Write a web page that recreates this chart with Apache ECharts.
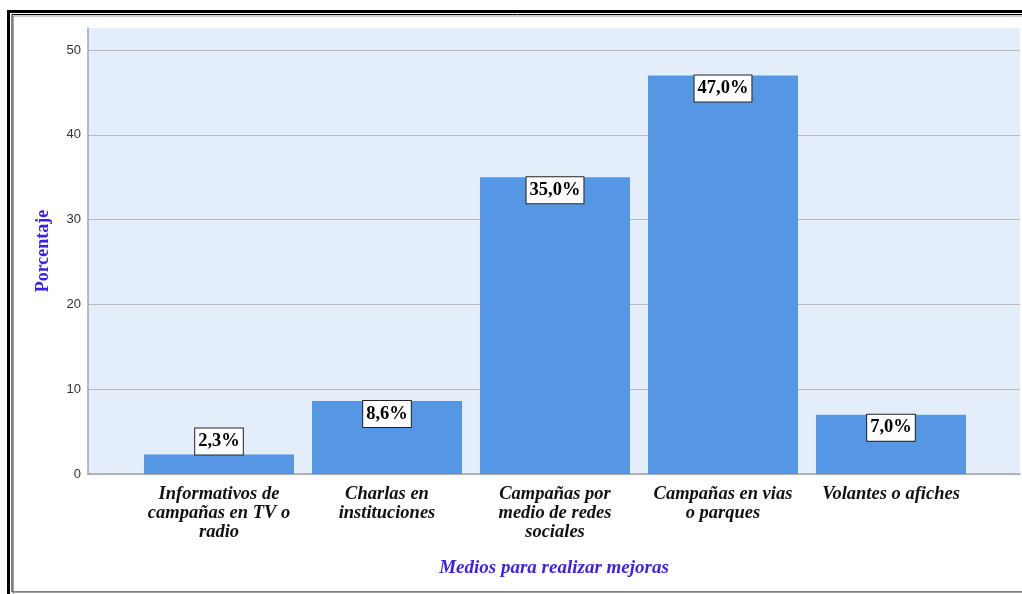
<!DOCTYPE html>
<html>
<head>
<meta charset="utf-8">
<title>Medios para realizar mejoras</title>
<script src="https://cdn.jsdelivr.net/npm/echarts@6/dist/echarts.min.js"></script>
<style>
  html, body { margin: 0; padding: 0; background: #ffffff; }
  #chart { width: 1022px; height: 594px; }
</style>
</head>
<body>
<div id="chart"></div>
<script>
// Survey categories and their share of responses (percent)
const categories = [
  'Informativos de\ncampañas en TV o\nradio',
  'Charlas en\ninstituciones',
  'Campañas por\nmedio de redes\nsociales',
  'Campañas en vias\no parques',
  'Volantes o afiches'
];
const percentages = [2.3, 8.6, 35.0, 47.0, 7.0];
// Labels that do not fit inside a short bar sit on top of it
const labelOutside = [true, false, false, false, false];

const yMax = 52.6;
const blueText = '#3a1ff2';
const serif = '"Liberation Serif", "DejaVu Serif", serif';

const chart = echarts.init(document.getElementById('chart'));

chart.setOption({
  animation: false,
  backgroundColor: '#ffffff',
  grid: [
    { left: 88, right: 2, top: 28, bottom: 120, show: true, backgroundColor: '#e3eefa', borderWidth: 0 },
    { left: 135, right: 47, top: 28, bottom: 120 }
  ],
  xAxis: [
    {
      gridIndex: 0, type: 'value', min: 0, max: 1,
      axisLine: { show: true, lineStyle: { color: '#a6a6a6', width: 1.5 } },
      axisTick: { show: false }, axisLabel: { show: false }, splitLine: { show: false },
      name: 'Medios para realizar mejoras', nameLocation: 'middle', nameGap: 85,
      nameTextStyle: { color: blueText, fontFamily: serif, fontStyle: 'italic', fontWeight: 'bold', fontSize: 19 }
    },
    {
      gridIndex: 1, type: 'category', data: categories,
      axisLine: { show: false }, axisTick: { show: false },
      axisLabel: {
        interval: 0, margin: 11, color: '#111111', fontFamily: serif,
        fontStyle: 'italic', fontWeight: 'bold', fontSize: 18.5, lineHeight: 19
      }
    }
  ],
  yAxis: [
    {
      gridIndex: 0, type: 'value', min: 0, max: yMax, interval: 10,
      axisLine: { show: true, lineStyle: { color: '#a6a6a6', width: 1.5 } },
      axisTick: { show: false },
      axisLabel: { showMaxLabel: false, margin: 7, color: '#333333', fontFamily: 'Arial, "Liberation Sans", sans-serif', fontSize: 13 },
      splitLine: { show: true, showMaxLine: false, lineStyle: { color: '#b8b8b8', width: 1 } },
      name: 'Porcentaje', nameLocation: 'middle', nameGap: 36,
      nameTextStyle: { color: blueText, fontFamily: serif, fontWeight: 'bold', fontSize: 18 }
    },
    {
      gridIndex: 1, type: 'value', min: 0, max: yMax, interval: 10, show: false
    }
  ],
  series: [{
    type: 'bar',
    xAxisIndex: 1, yAxisIndex: 1,
    barWidth: 150,
    itemStyle: { color: '#5596e5' },
    data: percentages.map((v, i) => ({
      value: v,
      label: { position: labelOutside[i] ? 'top' : 'insideTop' }
    })),
    label: {
      show: true, distance: 0,
      formatter: p => p.value.toFixed(1).replace('.', ',') + '%',
      color: '#000000', fontFamily: serif, fontWeight: 'bold', fontSize: 18.5, lineHeight: 18,
      backgroundColor: '#ffffff', borderColor: '#222222', borderWidth: 1, padding: [4, 3]
    }
  }],
  graphic: [
    // double frame around the figure
    { type: 'rect', shape: { x: 8.5, y: 11.5, width: 1100, height: 700 }, style: { fill: 'none', stroke: '#000000', lineWidth: 3 }, silent: true },
    { type: 'rect', shape: { x: 12, y: 14.5, width: 1100, height: 577.5 }, style: { fill: 'none', stroke: '#000000', lineWidth: 1 }, silent: true },
    { type: 'polyline', shape: { points: [[13.5, 594], [13.5, 16], [1022, 16]] }, style: { fill: 'none', stroke: '#a0a0a0', lineWidth: 1 }, silent: true },
    { type: 'line', shape: { x1: 12, y1: 592.5, x2: 1022, y2: 592.5 }, style: { stroke: '#a0a0a0', lineWidth: 1 }, silent: true }
  ]
});
</script>
</body>
</html>
